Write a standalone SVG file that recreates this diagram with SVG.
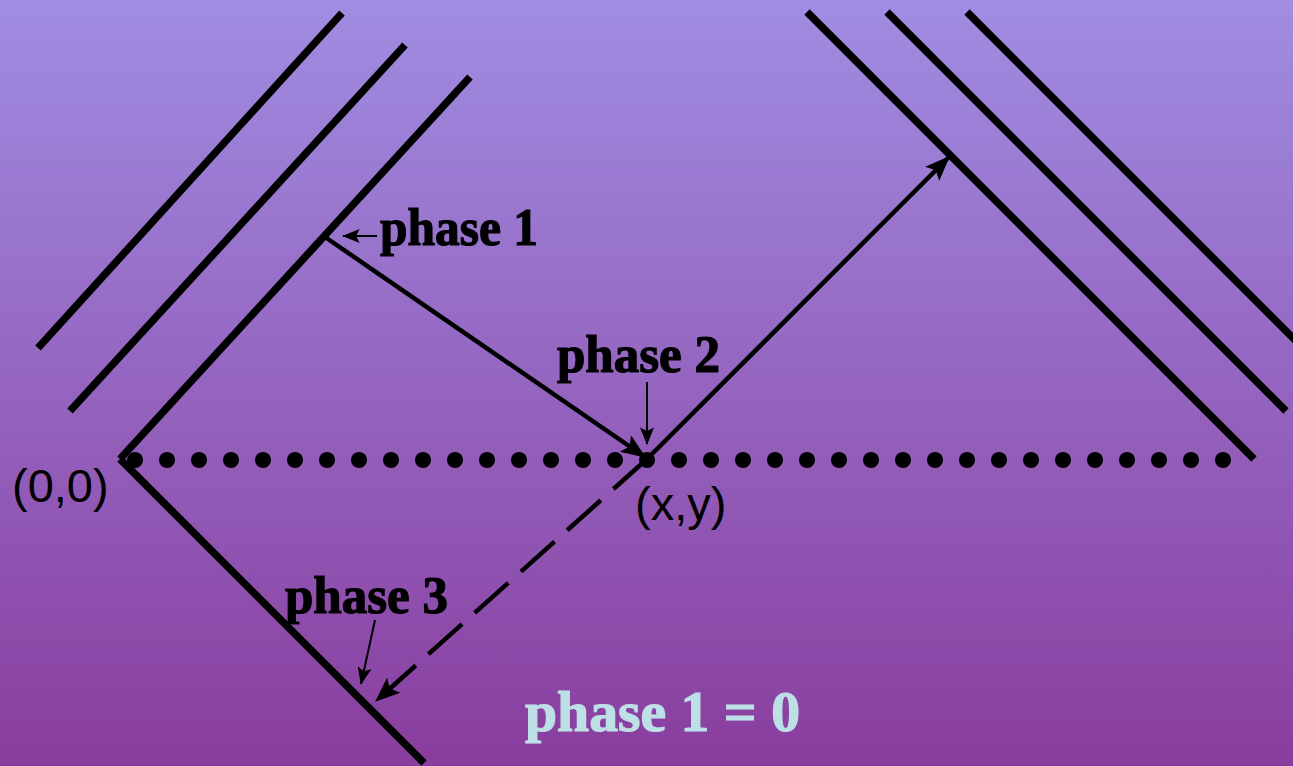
<svg xmlns="http://www.w3.org/2000/svg" width="1293" height="766" viewBox="0 0 1293 766">
<defs>
<linearGradient id="bg" x1="0" y1="0" x2="0" y2="1">
<stop offset="0" stop-color="#a08de2"/>
<stop offset="1" stop-color="#893d9e"/>
</linearGradient>
<marker id="ah" viewBox="0 0 20 16" refX="19" refY="8" markerWidth="26" markerHeight="20" markerUnits="userSpaceOnUse" orient="auto">
<path d="M0,0 L20,8 L0,16 L4,8 Z" fill="#000"/>
</marker>
<marker id="ahs" viewBox="0 0 20 16" refX="19" refY="8" markerWidth="18" markerHeight="14" markerUnits="userSpaceOnUse" orient="auto">
<path d="M0,0 L20,8 L0,16 L4,8 Z" fill="#000"/>
</marker>
<style>
.mirror{stroke:#000;stroke-width:7.5;fill:none}
.ray{stroke:#000;stroke-width:4.5;fill:none}
.ptr{stroke:#000;stroke-width:2;fill:none}
.lbl{font-family:"Liberation Serif","Times New Roman",serif;font-weight:bold;font-size:52px;fill:#000;stroke:#000;stroke-width:1.2}
.coord{font-family:"Liberation Sans",Arial,sans-serif;font-size:47px;fill:#000}
</style>
</defs>
<rect width="1293" height="766" fill="url(#bg)"/>
<g id="mirrors">
<line class="mirror" x1="38" y1="348" x2="342" y2="13"/>
<line class="mirror" x1="70" y1="411" x2="405" y2="45"/>
<line class="mirror" x1="120" y1="459" x2="470" y2="77"/>
<line class="mirror" x1="120" y1="459" x2="424" y2="763"/>
<line class="mirror" x1="807" y1="12" x2="1254" y2="459"/>
<line class="mirror" x1="887" y1="12" x2="1286" y2="411"/>
<line class="mirror" x1="967" y1="12" x2="1300" y2="345"/>
</g>
<g id="baseline-dots" fill="#000">
<circle cx="135" cy="460" r="8"/><circle cx="167" cy="460" r="8"/><circle cx="199" cy="460" r="8"/><circle cx="231" cy="460" r="8"/><circle cx="263" cy="460" r="8"/><circle cx="295" cy="460" r="8"/><circle cx="327" cy="460" r="8"/><circle cx="359" cy="460" r="8"/><circle cx="391" cy="460" r="8"/><circle cx="423" cy="460" r="8"/><circle cx="455" cy="460" r="8"/><circle cx="487" cy="460" r="8"/><circle cx="519" cy="460" r="8"/><circle cx="551" cy="460" r="8"/><circle cx="583" cy="460" r="8"/><circle cx="615" cy="460" r="8"/><circle cx="647" cy="460" r="8"/><circle cx="679" cy="460" r="8"/><circle cx="711" cy="460" r="8"/><circle cx="743" cy="460" r="8"/><circle cx="775" cy="460" r="8"/><circle cx="807" cy="460" r="8"/><circle cx="839" cy="460" r="8"/><circle cx="871" cy="460" r="8"/><circle cx="903" cy="460" r="8"/><circle cx="935" cy="460" r="8"/><circle cx="967" cy="460" r="8"/><circle cx="999" cy="460" r="8"/><circle cx="1031" cy="460" r="8"/><circle cx="1063" cy="460" r="8"/><circle cx="1095" cy="460" r="8"/><circle cx="1127" cy="460" r="8"/><circle cx="1159" cy="460" r="8"/><circle cx="1191" cy="460" r="8"/><circle cx="1223" cy="460" r="8"/>
</g>
<g id="connectors">
<line class="ray" x1="325" y1="237" x2="645" y2="457" marker-end="url(#ah)"/>
<line class="ray" x1="647" y1="459" x2="949" y2="157" marker-end="url(#ah)"/>
<line class="ray" x1="647" y1="459" x2="376" y2="701" stroke-width="5.5" stroke-dasharray="45 17" marker-end="url(#ah)"/>
<line class="ptr" x1="377" y1="236" x2="343" y2="236" marker-end="url(#ahs)"/>
<line class="ptr" x1="647" y1="382" x2="647" y2="444" marker-end="url(#ahs)"/>
<line class="ptr" x1="375" y1="620" x2="361" y2="684" marker-end="url(#ahs)"/>
</g>
<g id="labels">
<text class="lbl" x="380" y="245" textLength="158" lengthAdjust="spacingAndGlyphs">phase 1</text>
<text class="lbl" x="557" y="372" textLength="163" lengthAdjust="spacingAndGlyphs">phase 2</text>
<text class="lbl" x="285" y="613" textLength="163" lengthAdjust="spacingAndGlyphs">phase 3</text>
<text class="lbl" x="525" y="731" style="fill:#bde0e6;stroke:#bde0e6;font-size:56px" textLength="275" lengthAdjust="spacingAndGlyphs">phase 1 = 0</text>
<text class="coord" x="12" y="502">(0,0)</text>
<text class="coord" x="635" y="520">(x,y)</text>
</g>
</svg>
